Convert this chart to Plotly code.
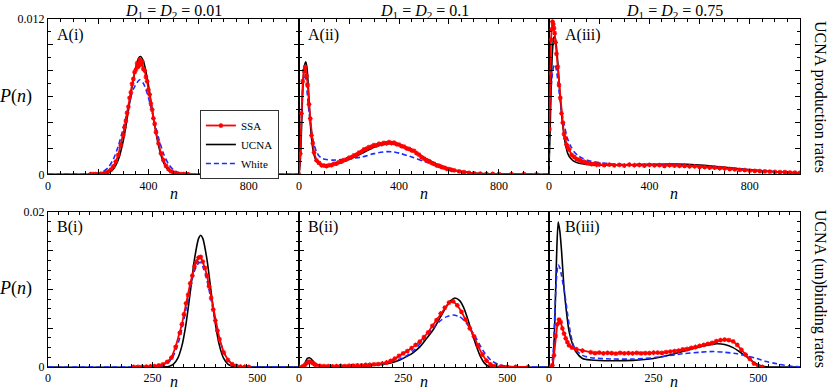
import plotly.graph_objects as go

FONT = "Liberation Serif"

# ---------------- data: A row (UCNA production rates) ----------------
a1_ssa_n = [170,180,190,200,210,220,230,240,250,260,270,280,290,300,
            305,310,315,320,325,330,335,340,345,350,355,360,365,370,375,380,385,390,395,400,405,410,415,420,425,430,
            440,450,460,470,480,490,500,510,520,530,540,550,560]
a1_ssa_p = [0.00001,0.00001,0.00002,0.00002,0.00004,0.00006,0.00012,0.00021,0.00036,0.00062,0.00098,0.00150,0.00226,0.00305,
            0.00362,0.00412,0.00475,0.00522,0.00590,0.00634,0.00698,0.00738,0.00790,0.00808,0.00858,0.00832,0.00885,0.00848,0.00872,0.00815,0.00802,0.00752,0.00718,0.00652,0.00615,0.00545,0.00500,0.00432,0.00390,0.00326,
            0.00240,0.00162,0.00110,0.00066,0.00041,0.00022,0.00013,0.00006,0.00003,0.00002,0.00001,0.00001,0.0]
a1_ucna_n = [0,200,220,240,260,280,300,320,340,360,368,380,400,420,440,460,480,500,520,540,1000]
a1_ucna_p = [0,0.000004,0.000024,0.000108,0.00039,0.00112,0.00261,0.00488,0.00736,0.00894,0.0091,0.00875,0.0069,0.00438,0.00224,0.00092,0.00031,0.00008,0.000018,0.0,0.0]
a1_white_n = [0,160,200,220,240,260,280,300,320,340,365,380,400,420,440,460,480,500,520,540,560,600,1000]
a1_white_p = [0,0.000006,0.000076,0.00021,0.00053,0.00115,0.00217,0.00359,0.0052,0.00657,0.0073,0.00703,0.00594,0.00439,0.00284,0.00161,0.00079,0.00034,0.00013,0.000043,0.000012,0.0,0.0]

a2_ssa_n = [0,5,10,15,20,25,30,35,40,45,50,55,60,
            70,80,90,100,110,120,130,140,150,160,170,180,190,200,210,220,230,240,250,260,270,280,290,300,
            310,320,330,340,350,360,370,380,390,400,410,420,430,440,450,460,470,480,490,500,510,520,530,540,
            550,560,570,580,590,600,610,620,640,660,680,700,725,750,775,800,850,900,950]
a2_ssa_p = [0.0,0.0016,0.0047,0.0072,0.0080,0.0083,0.0076,0.0069,0.0054,0.0043,0.0030,0.0024,0.0017,
            0.00108,0.00088,0.00070,0.00068,0.00064,0.00070,0.00071,0.00080,0.00083,0.00094,0.00098,0.00110,0.00115,0.00128,0.00132,0.00147,0.00152,0.00168,0.00175,0.00192,0.00198,0.00210,0.00213,0.00225,
            0.00224,0.00236,0.00234,0.00243,0.00239,0.00248,0.00241,0.00244,0.00233,0.00230,0.00218,0.00214,0.00200,0.00197,0.00185,0.00181,0.00163,0.00152,0.00133,0.00121,0.00108,0.00101,0.00088,0.00081,
            0.00069,0.00066,0.00058,0.00051,0.00043,0.00040,0.00034,0.00031,0.00022,0.00016,0.00011,0.00008,0.00005,0.00004,0.00003,0.00002,0.00001,0.00001,0.0]
a2_ucna_n = [0,5,10,15,20,27,32,38,45,50,55,60,70,80,100,120,150,200,250,300,350,380,400,450,500,550,600,650,700,750,800,900,1000]
a2_ucna_p = [0,0.001,0.0035,0.0065,0.0082,0.0087,0.0082,0.0065,0.0040,0.0028,0.0020,0.0015,0.0010,0.0008,0.0007,0.0007,0.0008,0.00115,0.0016,0.0021,0.00235,0.00235,0.0023,0.0019,0.0013,0.0008,0.00045,0.00022,0.0001,0.00004,0.00001,0,0]
a2_white_n = [0,5,10,15,20,25,30,40,50,60,70,80,93,110,133,160,200,250,300,350,380,404,457,500,550,600,650,700,750,800,900,1000]
a2_white_p = [0,0.0018,0.0045,0.0068,0.0075,0.0075,0.0068,0.0048,0.0033,0.0023,0.00175,0.00142,0.00123,0.00114,0.0011,0.00112,0.0012,0.00133,0.0016,0.00175,0.00172,0.00162,0.0013,0.001,0.00068,0.0004,0.0002,0.00008,0.00003,0.00001,0,0]

a3_ssa_n = [2,5,8,11,14,17,20,23,26,30,35,40,45,50,55,60,65,70,75,80,90,100,110,120,130,140,150,160,170,180,190,200,
            220,240,260,280,300,320,340,360,380,400,420,440,460,480,500,520,540,560,580,600,
            620,640,660,680,700,720,740,760,780,800,820,840,860,880,900,920,940,960,980,1000]
a3_ssa_p = [0.0035,0.0078,0.0104,0.0112,0.0118,0.0116,0.0113,0.0109,0.0102,0.0093,0.0083,0.0069,0.0059,0.0047,0.0040,0.0031,0.0028,0.0023,0.0021,0.0019,0.0015,0.00135,0.00118,0.00112,0.00100,0.00097,0.00088,0.00086,0.00079,0.00080,0.00074,0.00076,
            0.00071,0.00075,0.00069,0.00073,0.00068,0.00074,0.00070,0.00072,0.00067,0.00073,0.00069,0.00071,0.00066,0.00070,0.00067,0.00065,0.00066,0.00061,0.00062,0.00058,
            0.00056,0.00052,0.00051,0.00047,0.00045,0.00041,0.00038,0.00034,0.00032,0.00028,0.00027,0.00024,0.00023,0.00020,0.00019,0.00017,0.00016,0.00014,0.00013,0.00012]
a3_ucna_n = [0,4,8,12,16,20,24,30,36,40,46,53,60,66,75,86,100,120,150,200,300,400,500,600,700,800,900,1000]
a3_ucna_p = [0.0005,0.003,0.0062,0.0088,0.0101,0.0106,0.0106,0.0098,0.0084,0.0072,0.0056,0.0041,0.0030,0.00227,0.0016,0.00124,0.001,0.00085,0.00076,0.0007,0.00072,0.00078,0.0008,0.00072,0.00055,0.00035,0.0002,0.0001]
a3_white_n = [0,1,6,12,18,24,30,36,40,46,53,60,73,86,100,115,133,160,200,250,300,400,500,600,700,800,900,1000]
a3_white_p = [0.0,0.0040,0.0058,0.0075,0.0083,0.0085,0.0080,0.0071,0.0064,0.0055,0.0046,0.0039,0.0028,0.0022,0.00175,0.00145,0.00124,0.00105,0.0009,0.0008,0.00076,0.00074,0.00072,0.00064,0.0005,0.00034,0.0002,0.00011]

# ---------------- data: B row (UCNA (un)binding rates) ----------------
b1_ssa_n = [205,215,225,235,245,255,265,275,285,295,305,315,
            320,325,330,335,340,345,350,355,360,365,370,375,380,385,390,395,400,405,410,
            420,430,440,450,460,470,480]
b1_ssa_p = [0.00001,0.00002,0.00003,0.00004,0.00007,0.00012,0.00020,0.00035,0.00065,0.00120,0.00260,0.00440,
            0.0055,0.0068,0.0082,0.0093,0.0108,0.0118,0.0130,0.0136,0.0141,0.0142,0.0136,0.0128,0.0118,0.0104,0.0089,0.0074,0.0060,0.0047,0.0036,
            0.0019,0.00090,0.00038,0.00015,0.00006,0.00003,0.00001]
b1_ucna_n = [0,280,290,300,310,320,330,340,350,360,365,370,380,390,400,410,420,430,440,450,460,600]
b1_ucna_p = [0,0.00001,0.0001,0.00037,0.0011,0.00272,0.00561,0.00965,0.01387,0.0166,0.0170,0.0166,0.01387,0.00965,0.00561,0.00272,0.0011,0.00037,0.0001,0.000025,0,0]
b1_white_n = [0,240,260,270,280,290,300,310,320,330,340,350,362,370,380,390,400,410,420,430,440,450,460,470,480,600]
b1_white_p = [0,0.000003,0.000034,0.000104,0.000284,0.00069,0.00148,0.00286,0.0049,0.0075,0.0102,0.0124,0.0135,0.0130,0.0112,0.0086,0.00589,0.00359,0.00195,0.00095,0.00041,0.00016,0.000054,0.000017,0,0]

b2_ssa_n = [0,10,15,20,25,30,35,40,
            50,60,70,80,90,100,110,120,130,140,150,160,170,180,190,200,210,220,230,240,
            250,260,270,280,290,300,310,320,330,340,350,360,370,380,390,400,410,420,430,440,
            450,460,470,485,500,520,550]
b2_ssa_p = [0.0,0.0001,0.0003,0.00058,0.00066,0.00060,0.00042,0.00026,
            0.00014,0.00010,0.00011,0.00009,0.00012,0.00013,0.00012,0.00016,0.00017,0.00021,0.00022,0.00027,0.00029,0.00035,0.00038,0.00045,0.00058,0.00080,0.00108,0.00142,
            0.00175,0.00205,0.00242,0.00285,0.00328,0.00385,0.00448,0.00530,0.00605,0.00690,0.00765,0.00832,0.00848,0.00796,0.00712,0.00612,0.00498,0.00395,0.00268,0.00160,
            0.00082,0.00032,0.00012,0.00005,0.00002,0.00001,0.0]
b2_ucna_n = [0,10,15,20,25,30,40,50,60,100,150,175,200,225,242,260,275,290,305,322,340,355,365,374,385,395,405,414,425,435,445,455,465,600]
b2_ucna_p = [0,0.0001,0.0006,0.0011,0.0012,0.0010,0.0004,0.0001,0.00003,0.00002,0.0001,0.0002,0.00035,0.0006,0.0009,0.0014,0.0019,0.0026,0.0036,0.0048,0.0065,0.0079,0.0086,0.0089,0.0086,0.0077,0.0062,0.0046,0.0028,0.0014,0.0005,0.0001,0,0]
b2_white_n = [0,10,15,20,25,30,40,50,60,100,150,200,250,275,300,322,340,355,370,385,400,420,442,460,480,500,520,600]
b2_white_p = [0,0.0001,0.0004,0.0008,0.00086,0.0007,0.0003,0.0001,0.00005,0.00003,0.0001,0.0004,0.0012,0.0021,0.0036,0.0050,0.0060,0.0065,0.0067,0.0065,0.0058,0.0042,0.0021,0.0009,0.0003,0.0001,0,0]

b3_ssa_n = [0,8,12,16,20,24,28,32,36,40,44,48,55,65,80,
            100,110,120,130,140,150,160,170,180,190,200,210,220,230,240,250,260,270,280,290,
            300,310,320,330,340,350,360,370,380,390,400,410,420,430,440,450,460,470,480,490,500,510]
b3_ssa_p = [0.0,0.0002,0.0015,0.0040,0.0055,0.0061,0.0058,0.0050,0.0043,0.0037,0.0032,0.0028,0.0025,0.0023,0.0021,
            0.0019,0.0018,0.00185,0.00176,0.00182,0.00178,0.00172,0.00181,0.00176,0.00179,0.00175,0.00182,0.00177,0.00180,0.00178,0.00184,0.00186,0.00183,0.00192,0.00197,
            0.00205,0.00212,0.00228,0.00232,0.00248,0.00258,0.00272,0.00285,0.00298,0.00312,0.00335,0.00346,0.00352,0.00347,0.00330,0.00285,0.00222,0.00160,0.00105,0.00045,0.00015,0.00002]
b3_ucna_n = [0,8,10,14,18,22,26,30,36,42,48,56,64,80,100,150,200,250,300,340,370,401,420,440,460,473,490,505,520,540,600]
b3_ucna_p = [0,0,0.0005,0.006,0.014,0.0187,0.0175,0.0150,0.0102,0.0070,0.0046,0.0030,0.0020,0.0011,0.0009,0.0008,0.00085,0.0011,0.0017,0.0023,0.0027,0.0030,0.0029,0.0025,0.0018,0.0013,0.0006,0.0002,0.00003,0,0]
b3_white_n = [0,5,10,14,18,22,26,30,35,40,45,52,60,70,80,100,150,200,250,319,360,393,420,450,475,497,520,537,560,580,600]
b3_white_p = [0,0.0001,0.002,0.007,0.0115,0.0132,0.0128,0.0118,0.0103,0.0086,0.0066,0.0042,0.0026,0.0019,0.0015,0.0012,0.00103,0.00103,0.0012,0.0017,0.0019,0.0020,0.0019,0.0017,0.0014,0.0011,0.0007,0.0005,0.00025,0.0001,0.00004]

panel_labels = ["A(i)", "A(ii)", "A(iii)", "B(i)", "B(ii)", "B(iii)"]
col_titles = ["<i>D</i><sub>1</sub> = <i>D</i><sub>2</sub> = 0.01",
              "<i>D</i><sub>1</sub> = <i>D</i><sub>2</sub> = 0.1",
              "<i>D</i><sub>1</sub> = <i>D</i><sub>2</sub> = 0.75"]
row_titles = ["UCNA production rates", "UCNA (un)binding rates"]

panels = [
    (a1_ssa_n, a1_ssa_p, a1_ucna_n, a1_ucna_p, a1_white_n, a1_white_p),
    (a2_ssa_n, a2_ssa_p, a2_ucna_n, a2_ucna_p, a2_white_n, a2_white_p),
    (a3_ssa_n, a3_ssa_p, a3_ucna_n, a3_ucna_p, a3_white_n, a3_white_p),
    (b1_ssa_n, b1_ssa_p, b1_ucna_n, b1_ucna_p, b1_white_n, b1_white_p),
    (b2_ssa_n, b2_ssa_p, b2_ucna_n, b2_ucna_p, b2_white_n, b2_white_p),
    (b3_ssa_n, b3_ssa_p, b3_ucna_n, b3_ucna_p, b3_white_n, b3_white_p),
]
for pn in panels:
    assert len(pn[0]) == len(pn[1]) and len(pn[2]) == len(pn[3]) and len(pn[4]) == len(pn[5]), [len(v) for v in pn]

# ---------------- figure ----------------
col_dom = [[0.0, 0.3338], [0.3338, 0.6662], [0.6662, 1.0]]
row_dom = [[0.5537, 1.0], [0.0, 0.4454]]

fig = go.Figure()
for i, (sn, sp, un, up, wn, wp) in enumerate(panels):
    ax = "" if i == 0 else str(i + 1)
    first = (i == 0)
    fig.add_trace(go.Scatter(x=un, y=up, mode="lines", name="UCNA", legendrank=2,
                             line=dict(color="black", width=1.6, shape="spline", smoothing=0.7),
                             showlegend=first, xaxis="x" + ax, yaxis="y" + ax))
    fig.add_trace(go.Scatter(x=wn, y=wp, mode="lines", name="White", legendrank=3,
                             line=dict(color="#1a2cff", width=1.6, dash="5px,3px", shape="spline", smoothing=0.7),
                             showlegend=first, xaxis="x" + ax, yaxis="y" + ax))
    fig.add_trace(go.Scatter(x=sn, y=sp, mode="lines+markers", name="SSA", legendrank=1,
                             line=dict(color="red", width=1.8),
                             marker=dict(color="red", size=4, symbol="asterisk-open",
                                         line=dict(color="red", width=1.2)),
                             showlegend=first, xaxis="x" + ax, yaxis="y" + ax))

tickfont = dict(family=FONT, size=12, color="black")
common = dict(showline=True, linecolor="black", linewidth=1, mirror="allticks",
              ticks="inside", tickcolor="black", tickwidth=1, showgrid=False, zeroline=False,
              tickfont=tickfont, fixedrange=True)

layout = {}
for i in range(6):
    r, c = divmod(i, 3)
    sfx = "" if i == 0 else str(i + 1)
    if r == 0:
        xr = [0, 1000]
        xvals = [0, 200, 400, 600, 800, 1000]
        xtext = ["0", "", "400", "", "800", ""]
        xminor = 50
        yr = [0, 0.012]
        yvals = [0, 0.002, 0.004, 0.006, 0.008, 0.010, 0.012]
        ytext = ["0", "", "", "", "", "", "0.012"]
        yminor = 0.001
    else:
        xr = [0, 600]
        xvals = [0, 250, 500]
        xtext = ["0", "250", "500"]
        xminor = 25
        yr = [0, 0.02]
        yvals = [0, 0.005, 0.010, 0.015, 0.020]
        ytext = ["0", "", "", "", "0.02"]
        yminor = 0.00125
    if c != 0:
        ytext = [""] * len(yvals)
    layout["xaxis" + sfx] = dict(common, domain=col_dom[c], range=xr, anchor="y" + sfx,
                                 tickmode="array", tickvals=xvals, ticktext=xtext, ticklen=5,
                                 minor=dict(dtick=xminor, tick0=0, ticklen=3, ticks="inside", tickcolor="black"))
    layout["yaxis" + sfx] = dict(common, domain=row_dom[r], range=yr, anchor="x" + sfx,
                                 tickmode="array", tickvals=yvals, ticktext=ytext, ticklen=5,
                                 minor=dict(dtick=yminor, tick0=0, ticklen=3, ticks="inside", tickcolor="black"))

annotations = []
col_centers = [0.1669, 0.5, 0.8331]
label_x = [0.0093, 0.3431, 0.6848]
for c in range(3):
    annotations.append(dict(text=col_titles[c], x=col_centers[c], y=1.0546, xref="paper", yref="paper",
                            showarrow=False, font=dict(family=FONT, size=16, color="black"),
                            xanchor="center", yanchor="top"))
    annotations.append(dict(text="<i>n</i>", x=col_centers[c], y=0.5, xref="paper", yref="paper",
                            showarrow=False, font=dict(family=FONT, size=16, color="black"),
                            xanchor="center", yanchor="middle"))
    annotations.append(dict(text="<i>n</i>", x=col_centers[c], y=-0.0718, xref="paper", yref="paper",
                            showarrow=False, font=dict(family=FONT, size=16, color="black"),
                            xanchor="center", yanchor="bottom"))
for i in range(6):
    r, c = divmod(i, 3)
    yy = 0.954 if r == 0 else 0.403
    annotations.append(dict(text=panel_labels[i], x=label_x[c], y=yy, xref="paper", yref="paper",
                            showarrow=False, font=dict(family=FONT, size=16, color="black"),
                            xanchor="left", yanchor="middle"))
for r, yy in enumerate([0.776, 0.225]):
    annotations.append(dict(text="<i>P</i>(<i>n</i>)", x=-0.043, y=yy, xref="paper", yref="paper",
                            showarrow=False, font=dict(family=FONT, size=18, color="black"),
                            xanchor="center", yanchor="middle"))
    annotations.append(dict(text=row_titles[r], x=1.0266, y=yy, xref="paper", yref="paper",
                            showarrow=False, textangle=90, font=dict(family=FONT, size=16, color="black"),
                            xanchor="center", yanchor="middle"))

fig.update_layout(
    width=830, height=392,
    margin=dict(l=48, r=30, t=19, b=25, autoexpand=False),
    paper_bgcolor="white", plot_bgcolor="white",
    font=dict(family=FONT, size=12, color="black"),
    annotations=annotations,
    legend=dict(x=0.202, y=0.7385, xref="paper", yref="paper", xanchor="left", yanchor="top",
                bordercolor="#333", borderwidth=1, bgcolor="white",
                font=dict(family=FONT, size=11, color="black"),
                itemwidth=30, tracegroupgap=0),
    **layout,
)

fig.write_html("out.html", config={"displayModeBar": False},
               post_script="document.body.style.margin='0px';document.body.style.padding='0px';")
